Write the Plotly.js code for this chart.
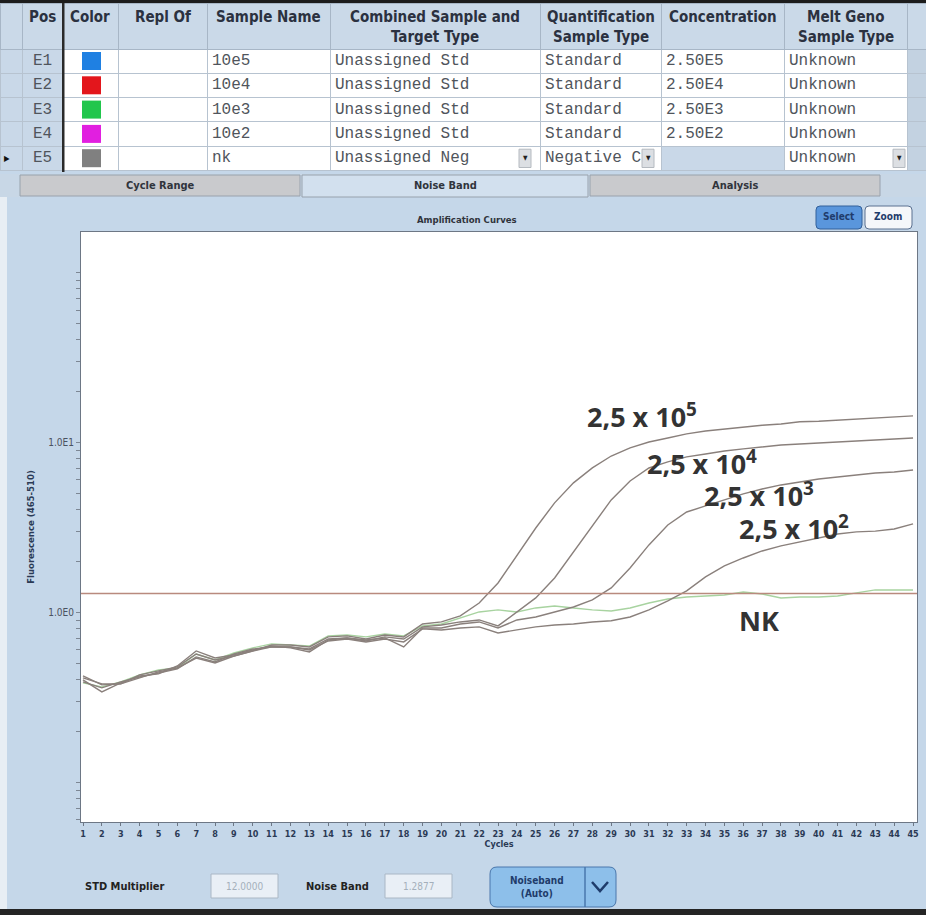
<!DOCTYPE html>
<html><head><meta charset="utf-8">
<script src="https://cdn.plot.ly/plotly-3.0.1.min.js"></script>
<style>html,body{margin:0;padding:0;background:#fff;overflow:hidden}#chart{width:926px;height:915px}</style>
</head><body><div id="chart"></div>
<script>
// ---------- DATA ----------
const cycles = [1,2,3,4,5,6,7,8,9,10,11,12,13,14,15,16,17,18,19,20,21,22,23,24,25,26,27,28,29,30,31,32,33,34,35,36,37,38,39,40,41,42,43,44,45];
const std5 = [0.411,0.379,0.379,0.428,0.452,0.477,0.568,0.524,0.553,0.592,0.642,0.642,0.625,0.716,0.726,0.696,0.735,0.716,0.853,
  0.877,0.951,1.134,1.487,2.14,3.13,4.40,5.77,7.07,8.30,9.26,10.04,10.6,11.2,11.65,11.96,12.3,12.6,12.8,13.2,13.3,13.5,13.7,13.9,14.1,14.3];
const std4 = [0.389,0.359,0.389,0.416,0.439,0.464,0.546,0.510,0.568,0.608,0.625,0.625,0.608,0.696,0.706,0.678,0.716,0.696,0.820,
  0.842,0.877,0.901,0.831,1.004,1.214,1.591,2.26,3.26,4.58,5.92,7.06,7.66,8.20,8.53,8.89,9.14,9.38,9.64,9.77,9.90,10.04,10.18,10.3,10.46,10.6];
const std3 = [0.400,0.340,0.384,0.422,0.434,0.483,0.592,0.538,0.561,0.600,0.633,0.617,0.584,0.687,0.706,0.687,0.706,0.625,0.808,
  0.808,0.853,0.877,0.808,0.901,0.938,1.004,1.074,1.181,1.39,1.82,2.49,3.26,3.89,4.22,4.58,4.97,5.31,5.61,5.84,6.08,6.25,6.42,6.60,6.69,6.87];
const std2 = [0.422,0.374,0.379,0.411,0.446,0.470,0.538,0.503,0.553,0.592,0.625,0.625,0.600,0.678,0.696,0.669,0.696,0.669,0.798,
  0.787,0.808,0.820,0.755,0.787,0.820,0.842,0.853,0.877,0.891,0.938,1.032,1.166,1.335,1.613,1.872,2.086,2.294,2.455,2.59,2.735,2.888,2.97,3.0,3.09,3.31];
const nk = [0.384,0.364,0.389,0.428,0.458,0.470,0.568,0.524,0.576,0.617,0.651,0.642,0.633,0.726,0.735,0.716,0.745,0.726,0.831,
  0.853,0.926,1.004,1.032,1.004,1.06,1.089,1.06,1.032,1.018,1.06,1.134,1.197,1.23,1.247,1.264,1.316,1.281,1.214,1.23,1.23,1.247,1.299,1.353,1.353,1.353];
const noiseBand = 1.2877;
const stdMultiplier = '12.0000';

const curveLabels = ['2,5 x 10<sup>5</sup>','2,5 x 10<sup>4</sup>','2,5 x 10<sup>3</sup>','2,5 x 10<sup>2</sup>','NK'];
const yTickVals = [0.06,0.07,0.08,0.09,0.1,0.2,0.3,0.4,0.5,0.6,0.7,0.8,0.9,1,2,3,4,5,6,7,8,9,10,20,30,40,50,60,70,80,90,100];
const yTickLabels = {1:'1.0E0', 10:'1.0E1'};

const tableHeaders = ['','Pos','Color','Repl Of','Sample Name','Combined Sample and<br>Target Type','Quantification<br>Sample Type','Concentration','Melt Geno<br>Sample Type',''];
const posLabels = ['E1','E2','E3','E4','E5'];
const sampleColors = ['#1f80e2','#e3161c','#21c64c','#e11fe0','#808080'];
const replOf = ['','','','',''];
const sampleNames = ['10e5','10e4','10e3','10e2','nk'];
const combinedType = ['Unassigned Std','Unassigned Std','Unassigned Std','Unassigned Std','Unassigned Neg'];
const quantType = ['Standard','Standard','Standard','Standard','Negative C'];
const concentration = ['2.50E5','2.50E4','2.50E3','2.50E2',''];
const meltType = ['Unknown','Unknown','Unknown','Unknown','Unknown'];
const tabLabels = ['Cycle Range','Noise Band','Analysis'];

// ---------- GEOMETRY HELPERS ----------
const W = 926, H = 915;
const X = v => v / W;
const Y = v => 1 - v / H;
const panel = '#c5d7e9';
const navy = '#1f3c6b';
const uiFont = 'DejaVu Sans Condensed, DejaVu Sans, sans-serif';
const monoFont = 'Liberation Mono, DejaVu Sans Mono, monospace';

function rect(x0, y0, x1, y1, fill, line, lw) {
  return {type:'rect', xref:'paper', yref:'paper', layer:'above',
    x0:X(x0), x1:X(x1), y0:Y(y1), y1:Y(y0), fillcolor:fill,
    line:{color:line || fill, width: lw === undefined ? (line ? 1 : 0) : lw}};
}
function rrect(x0, y0, x1, y1, r, fill, line) {
  const p = (x, y) => X(x) + ',' + Y(y);
  const d = 'M' + p(x0 + r, y0) + ' L' + p(x1 - r, y0) + ' Q' + p(x1, y0) + ' ' + p(x1, y0 + r) +
    ' L' + p(x1, y1 - r) + ' Q' + p(x1, y1) + ' ' + p(x1 - r, y1) +
    ' L' + p(x0 + r, y1) + ' Q' + p(x0, y1) + ' ' + p(x0, y1 - r) +
    ' L' + p(x0, y0 + r) + ' Q' + p(x0, y0) + ' ' + p(x0 + r, y0) + ' Z';
  return {type:'path', xref:'paper', yref:'paper', layer:'above', path:d, fillcolor:fill, line:{color:line, width:1}};
}
function txt(x, y, text, size, color, bold, extra) {
  return Object.assign({xref:'paper', yref:'paper', x:X(x), y:Y(y), text:bold ? '<b>' + text + '</b>' : text,
    showarrow:false, xanchor:'center', yanchor:'middle',
    font:{family:uiFont, size:size, color:color}}, extra || {});
}

// ---------- TABLE (grid + fills; text placed as annotations) ----------
const headerTop = 3, headerH = 46, rowH = 24.3;
const colWidths = [22,40,56,89,123,210,121,123,123,19];
const colLeft = colWidths.map((w, i) => colWidths.slice(0, i).reduce((a, b) => a + b, 0));
const blue = '#c9d8e8', white = '#ffffff';
const col = c => posLabels.map(() => c);
const cellColumns = [col(''), posLabels, col(''), replOf, sampleNames, combinedType, quantType, concentration, meltType, col('')];
const tableTrace = {
  type:'table',
  domain:{x:[0, 1], y:[Y(176), Y(headerTop)]},
  columnwidth:colWidths,
  header:{
    values: tableHeaders.map(() => ''),
    height:headerH,
    fill:{color:'#cad9e8'}, line:{color:'#a7b6c6', width:1},
    font:{family:uiFont, size:12, color:'#2b3140'}
  },
  cells:{
    values: cellColumns.map(c => c.map(() => '')),
    height:rowH,
    fill:{color:[col(blue), col(blue), col(white), col(white), col(white), col(white), col(white),
      concentration.map(c => c ? white : blue), col(white), col('#c3d2e1')]},
    line:{color:'#b7c3d0', width:1},
    font:{family:monoFont, size:12, color:'#555a60'}
  }
};

// ---------- CURVES ----------
const xRange = [0.894, 45.21];
const stdSeries = [
  {name:'nk', y:nk, color:'#a8d3a0'},
  {name:'10e2', y:std2, color:'#8a807c'},
  {name:'10e3', y:std3, color:'#8a807c'},
  {name:'10e4', y:std4, color:'#8a807c'},
  {name:'10e5', y:std5, color:'#8a807c'}
];
const traces = [tableTrace];
stdSeries.forEach(s => traces.push({type:'scatter', mode:'lines', x:cycles, y:s.y, name:s.name,
  line:{color:s.color, width:1.4}, hoverinfo:'skip'}));
traces.push({type:'scatter', mode:'lines', x:xRange, y:[noiseBand, noiseBand], name:'Noise band',
  line:{color:'#b98a7e', width:1.5}, hoverinfo:'skip'});

// ---------- SHAPES ----------
const shapes = [
  rect(0, 0, W, 3, '#1c1c1c'),
  rect(0, 174, W, 197, '#c8d7e6'),
  rect(20, 175, 300, 196, '#c9cacd', '#98a2ad'),
  rect(302, 175, 588, 197, '#d2e0ee', '#98a2ad'),
  rect(590, 175, 880, 196, '#c9cacd', '#98a2ad'),
  rect(0, 197, 7, 909, '#e8eef4'),
  rect(0, 909, W, H, '#242424'),
  rect(62, 3, 64.5, 172, '#2a2a2a'),
  rrect(816, 206, 862, 229, 4, '#5a96dc', '#33609a'),
  rrect(865, 206, 912, 229, 4, '#f5f7fa', '#5a7090'),
  rect(211, 874, 278, 898, '#e9eff6', '#aab7c5'),
  rect(385, 874, 452, 898, '#e9eff6', '#aab7c5'),
  rrect(490, 867, 616, 907, 7, '#8dbfea', '#4a77ac'),
  {type:'line', xref:'paper', yref:'paper', layer:'above', x0:X(585), x1:X(585), y0:Y(867), y1:Y(907), line:{color:'#4a77ac', width:1.5}},
  {type:'path', xref:'paper', yref:'paper', layer:'above',
    path:'M' + X(592) + ',' + Y(882) + ' L' + X(600) + ',' + Y(891) + ' L' + X(608) + ',' + Y(882),
    line:{color:navy, width:2.5}}
];
sampleColors.forEach((c, i) => {
  const top = headerTop + headerH + i * rowH;
  shapes.push(rect(82, top + 3, 101, top + 21, c));
});
const e5Top = headerTop + headerH + 4 * rowH;
const dropX = [519, 642, 893];
dropX.forEach(x => shapes.push(rect(x, e5Top + 3, x + 12, e5Top + rowH - 3, '#dcdfe3', '#b5bac0')));

// ---------- ANNOTATIONS ----------
const annotations = [
  txt(160, 185, tabLabels[0], 11, '#30343c', true),
  txt(445, 185, tabLabels[1], 11, '#30343c', true),
  txt(735, 185, tabLabels[2], 11, '#30343c', true),
  txt(467, 219, 'Amplification Curves', 9.5, '#30343c', true),
  txt(839, 217, 'Select', 10, navy, true),
  txt(888, 217, 'Zoom', 10, navy, true),
  txt(125, 886, 'STD Multiplier', 11, '#222', true),
  txt(244, 886, stdMultiplier, 10, '#a4afbb', false),
  txt(337, 886, 'Noise Band', 11, '#222', true),
  txt(418, 886, noiseBand.toFixed(4), 10, '#a4afbb', false),
  txt(537, 887, 'Noiseband<br>(Auto)', 10, navy, true),
  txt(7, e5Top + rowH / 2, '▶', 8, '#111', false)
];
dropX.forEach(x => annotations.push(txt(x + 6, e5Top + rowH / 2, '▼', 6.5, '#222', false)));

// header texts, each line centred in its column
tableHeaders.forEach((h, c) => {
  if (!h) return;
  h.split('<br>').forEach((line, k) => annotations.push(
    txt(colLeft[c] + colWidths[c] / 2, headerTop + 14 + 20 * k, line, 15, '#2b3140', true)));
});
// cell texts
const cellAlign = ['center','center','center','left','left','left','left','left','left','center'];
cellColumns.forEach((vals, c) => vals.forEach((v, r) => {
  if (!v) return;
  const cy = headerTop + headerH + r * rowH + rowH / 2;
  const centred = cellAlign[c] === 'center';
  annotations.push({xref:'paper', yref:'paper', showarrow:false, text:v,
    x:X(centred ? colLeft[c] + colWidths[c] / 2 : colLeft[c] + 3), y:Y(cy),
    xanchor:centred ? 'center' : 'left', yanchor:'middle',
    font:{family:monoFont, size:16, color:'#50555c'}});
}));

const labelPos = [[585, 415], [645, 462], [702, 494], [737, 527], [737, 620]];
curveLabels.forEach((t, i) => annotations.push({
  xref:'paper', yref:'paper', x:X(labelPos[i][0]), y:Y(labelPos[i][1]), text:'<b>' + t + '</b>',
  showarrow:false, xanchor:'left', yanchor:'middle',
  font:{family:'Open Sans, Noto Sans, sans-serif', size:27, color:'#333'}
}));

// ---------- LAYOUT ----------
const layout = {
  width:W, height:H, margin:{l:0, r:0, t:0, b:0},
  paper_bgcolor:panel, plot_bgcolor:'#ffffff', showlegend:false,
  xaxis:{domain:[X(81), X(917)], range:xRange, tickvals:cycles, ticktext:cycles.map(String),
    ticks:'outside', ticklen:3, tickcolor:'#6d7785', tickangle:0,
    tickfont:{family:uiFont, size:9, color:'#2b3a55', weight:'bold'},
    showline:true, linecolor:'#6d7785', linewidth:1, mirror:true, showgrid:false, zeroline:false,
    title:{text:'<b>Cycles</b>', font:{family:uiFont, size:9, color:'#2b3a55'}, standoff:1}},
  yaxis:{domain:[Y(822), Y(232)], type:'log', range:[-1.234, 2.237],
    tickvals:yTickVals, ticktext:yTickVals.map(v => yTickLabels[v] || ''),
    ticks:'outside', ticklen:4, tickcolor:'#7d8794',
    tickfont:{family:uiFont, size:10, color:'#4a5260'},
    showline:true, linecolor:'#6d7785', linewidth:1, mirror:true, showgrid:false, zeroline:false,
    title:{text:'<b>Fluorescence (465-510)</b>', font:{family:uiFont, size:9.5, color:'#2b3a55'}, standoff:11}},
  shapes:shapes, annotations:annotations
};

Plotly.newPlot('chart', traces, layout, {displayModeBar:false, staticPlot:true});
</script></body></html>
